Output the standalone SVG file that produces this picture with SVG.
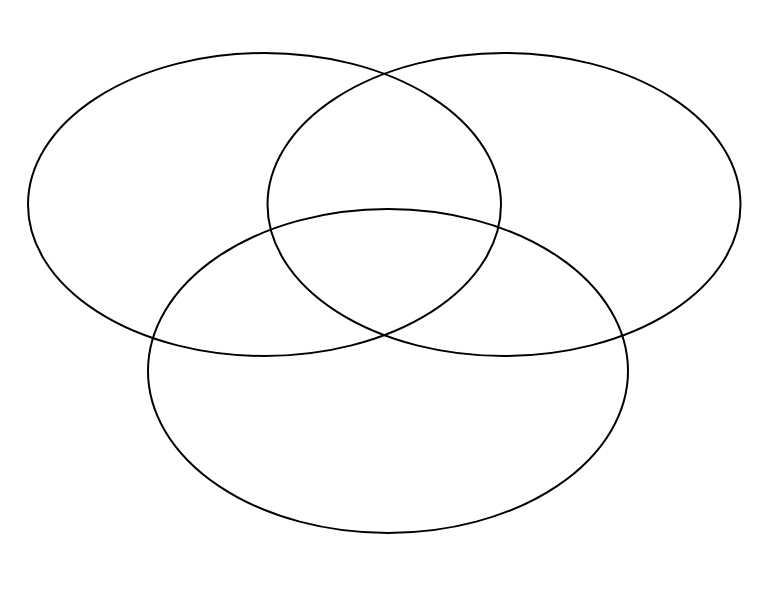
<svg xmlns="http://www.w3.org/2000/svg" width="776" height="600" viewBox="0 0 776 600">
<style>
.set { fill: none; stroke: #000; stroke-width: 2; }
</style>
<rect width="776" height="600" fill="#fff"/>
<g id="set-a"><ellipse class="set" cx="264.5" cy="204.5" rx="236.5" ry="151.5"/></g>
<g id="set-b"><ellipse class="set" cx="504" cy="204.5" rx="236.5" ry="151.5"/></g>
<g id="set-c"><ellipse class="set" cx="388" cy="371" rx="240" ry="162"/></g>
<g id="connectors"></g>
</svg>
